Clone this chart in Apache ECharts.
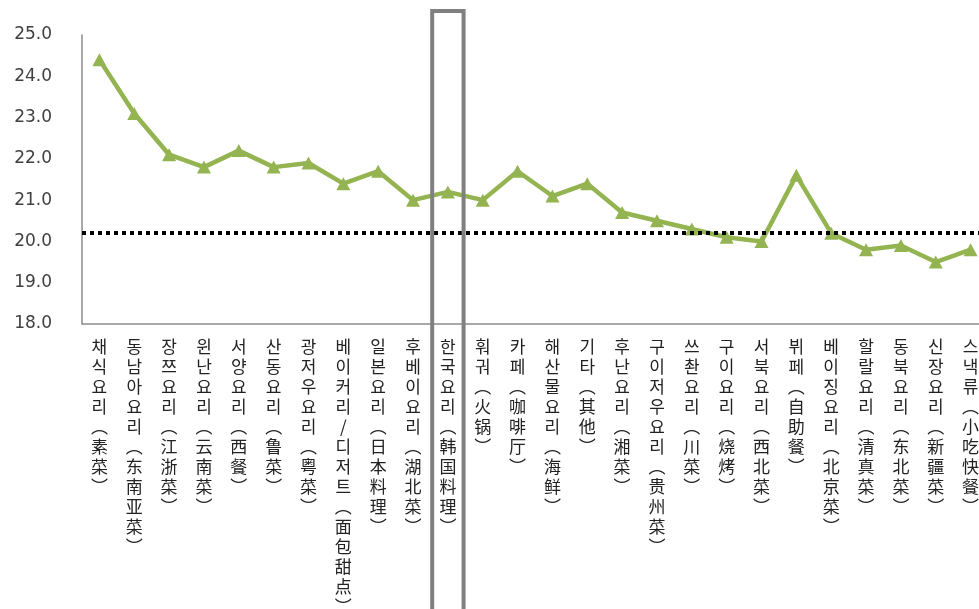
<!DOCTYPE html>
<html>
<head>
<meta charset="utf-8">
<title>음식 종류별 점수</title>
<script src="https://cdn.jsdelivr.net/npm/echarts@6/dist/echarts.min.js"></script>
<style>
  html, body { margin: 0; padding: 0; background: #ffffff; }
  #chart { width: 979px; height: 609px; }
</style>
</head>
<body>
<div id="chart"></div>
<script>
// Cuisine categories, in display order
const categories = [
  '채식요리(素菜)', '동남아요리(东南亚菜)', '장쯔요리(江浙菜)', '윈난요리(云南菜)',
  '서양요리(西餐)', '산동요리(鲁菜)', '광저우요리(粤菜)', '베이커리/디저트(面包甜点)',
  '일본요리(日本料理)', '후베이요리(湖北菜)', '한국요리(韩国料理)', '훠궈(火锅)',
  '카페(咖啡厅)', '해산물요리(海鲜)', '기타(其他)', '후난요리(湘菜)',
  '구이저우요리(贵州菜)', '쓰촨요리(川菜)', '구이요리(烧烤)', '서북요리(西北菜)',
  '뷔페(自助餐)', '베이징요리(北京菜)', '할랄요리(清真菜)', '동북요리(东北菜)',
  '신장요리(新疆菜)', '스낵류(小吃快餐)'
];

// Score per category
const values = [
  24.4, 23.1, 22.1, 21.8, 22.2, 21.8, 21.9, 21.4, 21.7, 21.0,
  21.2, 21.0, 21.7, 21.1, 21.4, 20.7, 20.5, 20.3, 20.1, 20.0,
  21.6, 20.2, 19.8, 19.9, 19.5, 19.8
];

// Overall average (dotted reference line)
const averageValue = 20.2;

// Category singled out with a frame
const highlightCategory = '한국요리(韩国料理)';

// Value axis range and ticks
const yMin = 18, yMax = 25, yStep = 1;

const chart = echarts.init(document.getElementById('chart'), null, { renderer: 'canvas' });

// Stack each label vertically, one glyph per line, with vertical-form brackets
function verticalLabel(text) {
  return Array.from(text).map(ch => {
    if (ch === '(') return '\uFE35';
    if (ch === ')') return '\uFE36';
    return ch;
  }).join('\n');
}

const labelFont = '"Noto Sans CJK KR", "Noto Sans CJK SC", sans-serif';

chart.setOption({
  animation: false,
  backgroundColor: '#ffffff',
  grid: {
    left: 82, top: 35, width: 906, bottom: 285,
    containLabel: false,
    outerBoundsMode: 'none'
  },
  xAxis: {
    type: 'category',
    data: categories,
    boundaryGap: true,
    axisLine: { show: true, lineStyle: { color: '#8c8c8c', width: 1.5 } },
    axisTick: { show: false },
    splitLine: { show: false },
    axisLabel: {
      interval: 0,
      margin: 13,
      fontFamily: labelFont,
      fontSize: 17,
      lineHeight: 20,
      color: '#222222',
      align: 'center',
      formatter: verticalLabel
    }
  },
  yAxis: {
    type: 'value',
    min: yMin,
    max: yMax,
    interval: yStep,
    axisLine: { show: true, lineStyle: { color: '#8c8c8c', width: 1.5 } },
    axisTick: { show: false },
    splitLine: { show: false },
    axisLabel: {
      margin: 30,
      fontFamily: '"DejaVu Sans", sans-serif',
      fontSize: 17,
      color: '#404040',
      formatter: v => v.toFixed(1)
    }
  },
  series: [{
    type: 'line',
    data: values,
    symbol: 'triangle',
    symbolSize: [14, 13],
    showAllSymbol: true,
    lineStyle: { color: '#93b450', width: 4.5 },
    itemStyle: { color: '#93b450' },
    z: 2,
    markLine: {
      silent: true,
      symbol: ['none', 'none'],
      label: { show: false },
      lineStyle: { color: '#000000', width: 4, type: [4, 4] },
      data: [{ yAxis: averageValue }],
      z: 3
    }
  }]
});

// Frame around the highlighted category, placed from the category axis
const cx = chart.convertToPixel({ xAxisIndex: 0 }, highlightCategory);
chart.setOption({
  graphic: [{
    type: 'rect',
    z: 100,
    shape: { x: cx - 15.7, y: 11, width: 31.4, height: 700 },
    style: { fill: 'none', stroke: '#808080', lineWidth: 4 }
  }]
});
</script>
</body>
</html>
